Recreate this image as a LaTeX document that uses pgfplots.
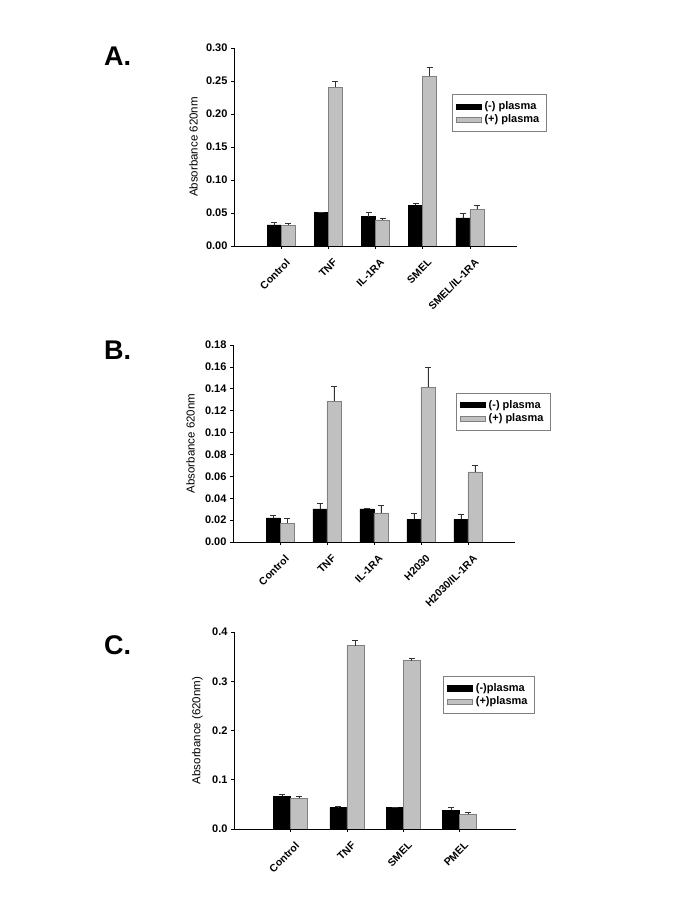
\documentclass[border=0pt]{standalone}
\usepackage{pgfplots}
\pgfplotsset{compat=1.18}
\usepackage{fontspec}
\setmainfont{Liberation Sans}
\definecolor{barg}{RGB}{192,192,192}
\definecolor{barge}{RGB}{128,128,128}
\definecolor{errc}{RGB}{50,50,50}
\pgfplotsset{
 panel/.style={
  scale only axis, anchor=south west,
  axis x line*=bottom, axis y line*=left,
  ybar=0pt, ymin=0,
  tick align=outside, major tick length=3pt,
  tick style={black, line width=0.6pt},
  axis line style={black, line width=0.7pt},
  /pgf/number format/assume math mode=true,
  yticklabel style={font=\bfseries\fontsize{11}{13}\selectfont, /pgf/number format/fixed, /pgf/number format/fixed zerofill},
  xticklabel style={font=\bfseries\fontsize{10.5}{12}\selectfont, rotate=45, anchor=north east, xshift=0pt, yshift=-6pt},
  legend style={draw=barge, line width=0.5pt, font=\bfseries\fontsize{11}{13}\selectfont, anchor=north west, legend cell align=left, inner xsep=4pt, inner ysep=5.5pt, row sep=0pt, nodes={inner xsep=3pt, inner ysep=1.9pt}},
 },
 blk/.style={fill=black, draw=black, line width=0.4pt,
   error bars/.cd, y dir=plus, y explicit,
   error bar style={errc, line width=0.6pt},
   error mark=-,
   error mark options={errc, mark size=3pt, line width=0.6pt, rotate=90},
   /pgfplots/.cd,
   legend image code/.code={\fill[black] (0pt,-2.6pt) rectangle (25pt,2.6pt);}},
 gry/.style={fill=barg, draw=barge, line width=0.5pt,
   error bars/.cd, y dir=plus, y explicit,
   error bar style={errc, line width=0.6pt},
   error mark=-,
   error mark options={errc, mark size=3pt, line width=0.6pt, rotate=90},
   /pgfplots/.cd,
   legend image code/.code={\filldraw[fill=barg, draw=barge, line width=0.4pt] (0pt,-2.6pt) rectangle (25pt,2.6pt);}},
}
\begin{document}
\begin{tikzpicture}[x=1pt,y=1pt]
\useasboundingbox (0,0) rectangle (685,911);
\node[anchor=base west, font=\bfseries\fontsize{27}{27}\selectfont, inner sep=0pt] at (104,845) {A.};
\node[anchor=base west, font=\bfseries\fontsize{27}{27}\selectfont, inner sep=0pt] at (104,551) {B.};
\node[anchor=base west, font=\bfseries\fontsize{27}{27}\selectfont, inner sep=0pt] at (104,256) {C.};
% Panel A
\begin{axis}[panel, at={(234pt,665pt)}, width=283pt, height=198pt,
  bar width=14pt, xmin=-1, xmax=5, ymax=0.30, ytick={0,0.05,...,0.31},
  yticklabel style={/pgf/number format/precision=2},
  xtick={0,1,2,3,4}, xticklabels={Control,TNF,IL-1RA,SMEL,SMEL/IL-1RA},
  ylabel={Absorbance 620nm},
  ylabel style={font=\fontsize{11.5}{13}\selectfont, at={(axis description cs:-0.143,0.5)}, anchor=center},
  legend style={at={(0.770,0.768)}}]
\addplot[blk] coordinates {(0,0.032) +- (0,0.0035) (1,0.0505) +- (0,0.0012) (2,0.0445) +- (0,0.007) (3,0.0615) +- (0,0.0028) (4,0.0425) +- (0,0.0072)};
\addplot[gry] coordinates {(0,0.0318) +- (0,0.003) (1,0.2405) +- (0,0.0092) (2,0.0395) +- (0,0.0032) (3,0.2575) +- (0,0.0137) (4,0.0558) +- (0,0.0055)};
\legend{(-) plasma,(+) plasma}
\end{axis}
% Panel B
\begin{axis}[panel, at={(233pt,369pt)}, width=282pt, height=197pt,
  bar width=14pt, xmin=-1, xmax=5, ymax=0.18, ytick={0,0.02,...,0.181},
  yticklabel style={/pgf/number format/precision=2},
  xtick={0,1,2,3,4}, xticklabels={Control,TNF,IL-1RA,H2030,H2030/IL-1RA},
  ylabel={Absorbance 620nm},
  ylabel style={font=\fontsize{11.5}{13}\selectfont, at={(axis description cs:-0.151,0.5)}, anchor=center},
  legend style={at={(0.791,0.758)}}]
\addplot[blk] coordinates {(0,0.022) +- (0,0.0025) (1,0.0302) +- (0,0.0054) (2,0.0302) +- (0,0.0008) (3,0.0207) +- (0,0.0055) (4,0.021) +- (0,0.0046)};
\addplot[gry] coordinates {(0,0.0171) +- (0,0.0045) (1,0.1288) +- (0,0.0134) (2,0.0265) +- (0,0.0067) (3,0.1413) +- (0,0.0187) (4,0.064) +- (0,0.006)};
\legend{(-) plasma,(+) plasma}
\end{axis}
% Panel C
\begin{axis}[panel, at={(234pt,82pt)}, width=282pt, height=197pt,
  bar width=17pt, xmin=-1, xmax=4, ymax=0.4, ytick={0,0.1,0.2,0.3,0.4},
  yticklabel style={/pgf/number format/precision=1},
  xtick={0,1,2,3}, xticklabels={Control,TNF,SMEL,PMEL},
  ylabel={Absorbance (620nm)},
  ylabel style={font=\fontsize{11.5}{13}\selectfont, at={(axis description cs:-0.130,0.5)}, anchor=center},
  legend style={at={(0.742,0.778)}}]
\addplot[blk] coordinates {(0,0.0662) +- (0,0.0041) (1,0.0439) +- (0,0.0014) (2,0.0439) +- (0,0.0) (3,0.0378) +- (0,0.0061)};
\addplot[gry] coordinates {(0,0.0622) +- (0,0.0033) (1,0.3723) +- (0,0.0107) (2,0.3419) +- (0,0.0041) (3,0.0297) +- (0,0.0041)};
\legend{(-)plasma,(+)plasma}
\end{axis}
\end{tikzpicture}
\end{document}
